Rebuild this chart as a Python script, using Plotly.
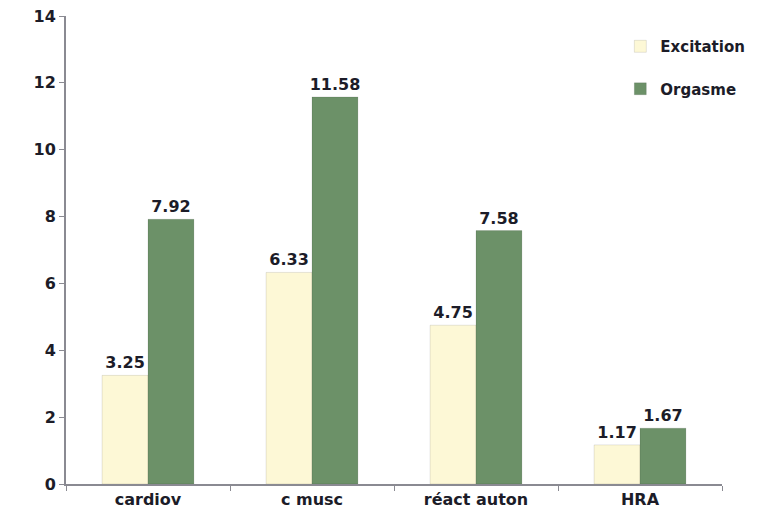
import plotly.graph_objects as go

categories = ["cardiov", "c musc", "réact auton", "HRA"]
excitation = [3.25, 6.33, 4.75, 1.17]
orgasme = [7.92, 11.58, 7.58, 1.67]
y_ticks = [0, 2, 4, 6, 8, 10, 12, 14]

FONT = "DejaVu Sans"
TEXT_COLOR = "#1c1c28"
AXIS_COLOR = "#8a8a92"

fig = go.Figure()
fig.add_trace(go.Bar(
    name="Excitation", x=categories, y=excitation,
    marker=dict(color="#fdf8d6", line=dict(color="rgba(0,0,0,0.10)", width=1)),
    text=[f"{v:.2f}" for v in excitation], textposition="outside",
    constraintext="none",
    textfont=dict(family=FONT, size=16, color=TEXT_COLOR, weight="bold"),
    cliponaxis=False, legendgroup="a",
))
fig.add_trace(go.Bar(
    name="Orgasme", x=categories, y=orgasme,
    marker=dict(color="#6c9168", line=dict(color="rgba(0,0,0,0.10)", width=1)),
    text=[f"{v:.2f}" for v in orgasme], textposition="outside",
    constraintext="none",
    textfont=dict(family=FONT, size=16, color=TEXT_COLOR, weight="bold"),
    cliponaxis=False, legendgroup="b",
))

fig.update_layout(
    width=767, height=518,
    margin=dict(l=66, r=45, t=16, b=34, autoexpand=False),
    paper_bgcolor="white", plot_bgcolor="white",
    barmode="group", bargap=0.44, bargroupgap=0,
    font=dict(family=FONT, color=TEXT_COLOR, weight="bold"),
    legend=dict(
        x=0.845, y=0.97, xanchor="left", yanchor="top",
        font=dict(family=FONT, size=15, color=TEXT_COLOR, weight="bold"),
        tracegroupgap=20, itemwidth=30, bgcolor="rgba(0,0,0,0)",
    ),
    xaxis=dict(
        showline=True, linecolor=AXIS_COLOR, linewidth=2,
        ticks="outside", tickson="boundaries", ticklen=5, tickcolor=AXIS_COLOR,
        tickfont=dict(family=FONT, size=16, color=TEXT_COLOR, weight="bold"),
        showgrid=False, automargin=False,
    ),
    yaxis=dict(
        range=[0, 14], tickvals=y_ticks,
        showline=True, linecolor=AXIS_COLOR, linewidth=2,
        ticks="outside", ticklen=5, tickcolor=AXIS_COLOR,
        tickfont=dict(family=FONT, size=16, color=TEXT_COLOR, weight="bold"),
        showgrid=False, zeroline=False, automargin=False,
    ),
)

fig.write_html("out.html")
